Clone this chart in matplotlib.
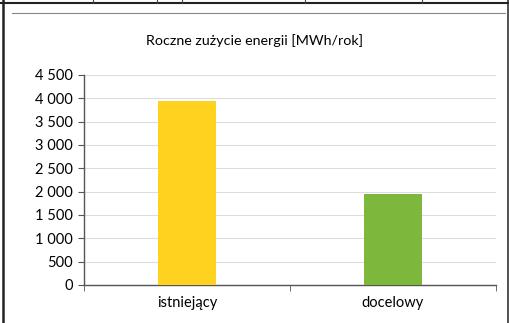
import matplotlib
matplotlib.use("Agg")
from matplotlib import pyplot as plt
from matplotlib.ticker import FuncFormatter

categories = ["istniejący", "docelowy"]
values = [3940, 1950]
bar_colors = ["#FFD21F", "#7DB83C"]
yticks = [0, 500, 1000, 1500, 2000, 2500, 3000, 3500, 4000, 4500]

plt.rcParams['font.family'] = ['Lato', 'DejaVu Sans']

fig = plt.figure(figsize=(5.1, 3.23), dpi=100)
ax = fig.add_axes([84 / 510, 1 - 285 / 323, 412 / 510, 210 / 323])

x = list(range(len(categories)))
ax.bar(x, values, width=0.28, color=bar_colors, zorder=3)

ax.set_xlim(-0.5, 1.5)
ax.set_ylim(0, 4500)
ax.set_yticks(yticks)
ax.yaxis.set_major_formatter(FuncFormatter(lambda v, p: f"{int(v):,}".replace(",", " ")))
ax.grid(axis='y', color='#dddddd', linewidth=0.8, zorder=0)

ax.set_xticks(x)
ax.set_xticklabels(categories, fontsize=10.5)
ax.set_xticks([-0.5, 0.5, 1.5], minor=True)
ax.tick_params(axis='x', which='major', length=0, pad=8)
ax.tick_params(axis='x', which='minor', length=4, color='#555555', direction='out')
ax.tick_params(axis='y', length=4, color='#555555', labelsize=10.5, pad=4)

for s in ['top', 'right']:
    ax.spines[s].set_visible(False)
for s in ['left', 'bottom']:
    ax.spines[s].set_color('#555555')
    ax.spines[s].set_linewidth(1.0)

fig.text(0.5, 1 - 41 / 323, "Roczne zużycie energii [MWh/rok]",
         ha='center', va='center', fontsize=10.3)

# scanned table cell: borders, column stubs, chart area line
def fig_line(xs, ys, **kw):
    fig.add_artist(plt.Line2D([v / 510 for v in xs], [1 - v / 323 for v in ys],
                              transform=fig.transFigure, **kw))

fig_line([3, 3], [0, 323], color='#222222', linewidth=1.8)
fig_line([508, 508], [0, 323], color='#333333', linewidth=1.2)
fig_line([0, 510], [3, 3], color='#222222', linewidth=1.5)
for cx in [93, 157, 182, 305, 422]:
    fig_line([cx, cx], [0, 3], color='#444444', linewidth=0.8)
fig_line([12, 505], [13, 13], color='#888888', linewidth=0.8)

fig.savefig("out.png", dpi=100)
